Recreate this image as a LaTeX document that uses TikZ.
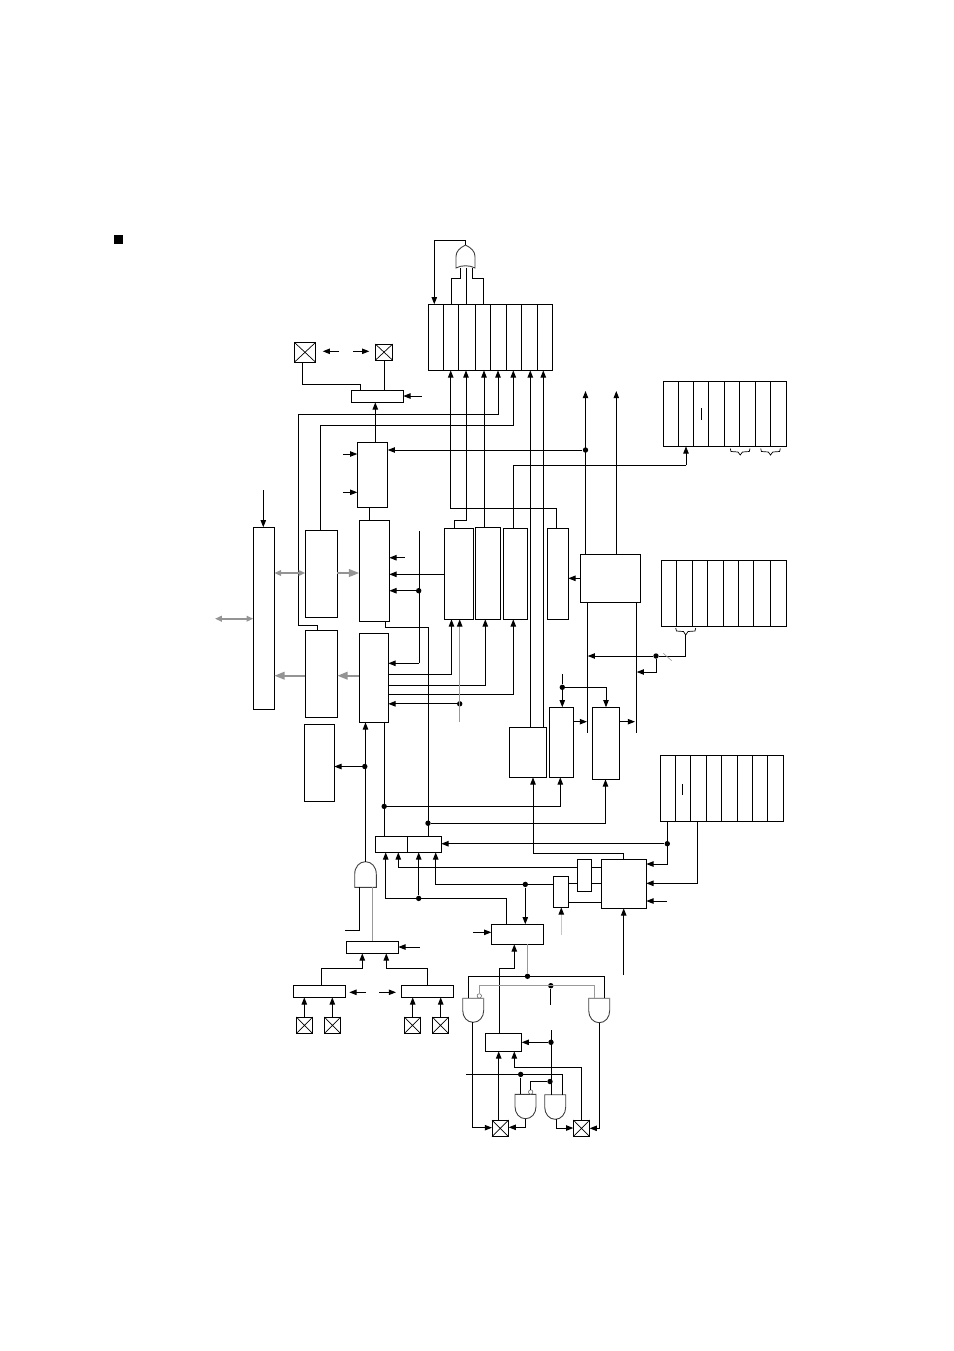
\documentclass[tikz,border=0pt]{standalone}
\usetikzlibrary{arrows.meta,calc}
\tikzset{
	blk/.style={draw, line width=0.5pt, inner sep=0, outer sep=0},
	gatebox/.style={inner sep=0, outer sep=0},
	wire/.style={draw, line width=0.5pt},
	arr/.style={wire, -{Triangle[length=3.6pt,width=2.7pt]}},
	graywire/.style={draw=black!40, line width=0.5pt},
	grayarr/.style={graywire, -{Triangle[length=3.6pt,width=2.7pt,color=black]}},
	busA/.style={draw=black!42, line width=1pt, {Triangle[length=3.4pt,width=2.8pt]}-{Triangle[length=3.4pt,width=2.8pt]}},
	busB/.style={draw=black!42, line width=1pt, -{Triangle[length=5.2pt,width=3.8pt]}},
	dot/.style={circle, fill=black, inner sep=0, minimum size=2.7pt},
	bub/.style={circle, draw=black!60, fill=white, line width=0.3pt, inner sep=0, minimum size=2.2pt},
	gatel/.style={draw=black!75, line width=0.45pt},
	gategray/.style={draw=black!45, line width=0.7pt}
}
\newcommand{\blk}[5]{\node[blk, minimum width={(#4-#2)*0.5pt}, minimum height={(#5-#3)*0.5pt}] (#1) at ({(#2+#4)/2},{(#3+#5)/2}) {};}
\newcommand{\gbx}[5]{\node[gatebox, minimum width={(#4-#2)*0.5pt}, minimum height={(#5-#3)*0.5pt}] (#1) at ({(#2+#4)/2},{(#3+#5)/2}) {};}
\newcommand{\xbx}[5]{\blk{#1}{#2}{#3}{#4}{#5}\draw[wire, line width=0.35pt] (#1.north west) -- (#1.south east) (#1.north east) -- (#1.south west);}
\newcommand{\regbx}[6]{\blk{#1}{#2}{#3}{#4}{#5}\foreach \xx in {#6} {\draw[wire] (\xx,0 |- #1.north) -- (\xx,0 |- #1.south);}}
\newcommand{\anddown}[5]{\gbx{#1}{#2}{#3}{#4}{#5}\draw[gatel] (#1.north west) -- (#1.west) .. controls +(0,7) and +(-6,0) .. (#1.south) .. controls +(6,0) and +(0,7) .. (#1.east) -- (#1.north east) -- cycle;}
\newcommand{\andup}[5]{\gbx{#1}{#2}{#3}{#4}{#5}\draw[gatel] (#1.south west) -- (#1.west) .. controls +(0,-8) and +(-6,0) .. (#1.north) .. controls +(6,0) and +(0,-8) .. (#1.east) -- (#1.south east) -- cycle;}
\newcommand{\orup}[5]{\gbx{#1}{#2}{#3}{#4}{#5}\draw[gatel] (#1.south west) -- (#1.west) .. controls +(0,-5) and +(-6,3) .. (#1.north) .. controls +(6,3) and +(0,-5) .. (#1.east) -- (#1.south east) .. controls +(-5,-3) and +(5,-3) .. (#1.south west) -- cycle;}

\begin{document}
\begin{tikzpicture}[x=0.5pt, y=-0.5pt]
	\useasboundingbox (0,0) rectangle (954,1351);
	
	\node[fill=black, inner sep=0, minimum size=4.5pt] (bullet) at (118.7,239.3) {};
	
	%%%%% registers %%%%%
	\regbx{regPin}{428.3}{304.3}{552.7}{370.3}{443.3,458.7,475.3,490.7,506.7,521.3,537.3}
	\regbx{regTop}{663.3}{381.3}{786.3}{446.3}{678.3,693.3,708.3,724.3,739.3,755.3,770.3}
	\regbx{regMid}{661.3}{560.3}{786.3}{626.3}{676.3,692.3,707.3,723.3,738.3,753.3,770.3}
	\regbx{regLow}{660.3}{755.7}{783.3}{821.3}{675.3,690.3,706.3,721.3,737.3,752.7,767.3}
	\draw[wire] (701.3,408.3) -- (701.3,420);
	\draw[wire] (682.3,784) -- (682.3,795.3);
	
	%%%%% blocks %%%%%
	\blk{muxOut}{351.3}{390.3}{403.3}{402.3}
	\blk{sel}{357.3}{442.3}{387.7}{507.3}
	\blk{busIf}{253.3}{527.3}{274.3}{709.3}
	\blk{wrBuf}{305.3}{530.3}{337.3}{617.3}
	\blk{rdBuf}{305.3}{630.3}{337.3}{717.3}
	\blk{ctrl}{304.3}{724.3}{334.3}{801.3}
	\blk{shiftW}{359.3}{520.3}{389.3}{621.3}
	\blk{shiftR}{359.3}{633.3}{388.3}{722.3}
	\blk{boxG}{444.3}{528.3}{473.3}{619.3}
	\blk{boxH}{475.3}{527.3}{500.7}{619.3}
	\blk{boxI}{503.3}{528.3}{527.7}{619.3}
	\blk{boxJ}{547.3}{528.3}{568.3}{619.3}
	\blk{timer}{580.3}{554.3}{640.3}{602.3}
	\blk{boxN}{509.3}{727.3}{546.7}{777.3}
	\blk{boxM}{549.3}{707.3}{573.7}{777.3}
	\blk{boxK}{592.3}{707.3}{619.3}{779.3}
	\blk{muxL}{375.3}{836.3}{407.3}{852.3}
	\blk{muxR}{407.3}{836.3}{441.3}{852.3}
	\blk{boxP}{601.3}{859.3}{646.3}{908.3}
	\blk{boxQ}{577.3}{859.3}{591.7}{891.3}
	\blk{boxR}{553.3}{876.3}{568.7}{907.3}
	\blk{boxS}{491.3}{924.3}{543.7}{944.3}
	\blk{muxT}{346.3}{941.3}{398.3}{953.3}
	\blk{muxU}{293.3}{985.3}{345.3}{997.3}
	\blk{muxV}{401.3}{985.3}{453.3}{997.3}
	\blk{boxW}{485.3}{1033.3}{521.7}{1051.3}
	
	%%%%% pads %%%%%
	\xbx{padA}{294.3}{342.3}{315.7}{362.3}
	\xbx{padB}{375.3}{344}{392.7}{360.3}
	\xbx{padC}{296.3}{1017}{312.7}{1033.7}
	\xbx{padD}{324.3}{1017}{340.7}{1033.7}
	\xbx{padE}{404.3}{1017}{420.7}{1033.7}
	\xbx{padF}{432.3}{1017}{448.7}{1033.7}
	\xbx{padG}{492}{1120}{508.7}{1136.7}
	\xbx{padH}{573.3}{1120}{589.7}{1136.7}
	
	%%%%% gates %%%%%
	\orup{orGate}{456}{245}{475}{268}
	\andup{andT}{354.7}{861.7}{376.3}{887.3}
	\anddown{andA}{462.7}{998.3}{483.7}{1022.3}
	\anddown{andB}{588.7}{998.3}{609.7}{1022.7}
	\anddown{andC}{515}{1094.3}{536}{1118.7}
	\anddown{andD}{544.7}{1094.7}{565.7}{1119.3}
	\draw[gategray] (andA.west) -- (andA.north west) -- (andA.north east);
	\draw[gategray] (andB.north west) -- (andB.north east);
	\node[bub] (bubA) at (479.3,995.9) {};
	\node[bub] (bubB) at (530.7,1092) {};
	
	%%%%% dots %%%%%
	\node[dot] (dotTimer) at (585.5,450) {};
	\node[dot] (dotVert) at (418.7,590.7) {};
	\node[dot] (dotGray) at (459.7,703.8) {};
	\node[dot] (dotCtrl) at (364.8,766.5) {};
	\node[dot] (dotLeft) at (384.2,806.4) {};
	\node[dot] (dotRight) at (428,823.2) {};
	\node[dot] (dotBrace) at (656,656) {};
	\node[dot] (dotKM) at (562.3,687.3) {};
	\node[dot] (dotReg) at (667.3,843.7) {};
	\node[dot] (dotR) at (525.3,884.4) {};
	\node[dot] (dotS) at (418.7,898.4) {};
	\node[dot] (dotGnd) at (527.5,976.3) {};
	\node[dot] (dotEn) at (550.8,985.7) {};
	\node[dot] (dotW) at (551,1042.3) {};
	\node[dot] (dotC) at (550,1081.5) {};
	\node[dot] (dotBot) at (520.7,1074.4) {};
	
	%%%%% top %%%%%
	\draw[arr] (orGate.north) -- ++(0,-4.7) -| (434.3,0 |- regPin.north);
	\draw[wire] (451.7,0 |- regPin.north) |- (460,278) -- (460,0 |- orGate.south);
	\draw[wire] (466,0 |- regPin.north) -- (466,0 |- orGate.south);
	\draw[wire] (483.3,0 |- regPin.north) |- (472,278) -- (472,0 |- orGate.south);
	
	\draw[arr] (556.3,0 |- boxJ.north) |- (450.7,508.3) -- (450.7,0 |- regPin.south);
	\draw[arr] (454.3,0 |- boxG.north) |- (466,520) -- (466,0 |- regPin.south);
	\draw[arr] (484,0 |- boxH.north) -- (484,0 |- regPin.south);
	\draw[arr] (rdBuf.north -| 317.3,0) |- (298.3,625.3) |- (498,414.3) -- (498,0 |- regPin.south);
	\draw[arr] (320.3,0 |- wrBuf.north) |- (513.3,425.7) -- (513.3,0 |- regPin.south);
	\draw[arr] (530.3,0 |- boxN.north) -- (530.3,0 |- regPin.south);
	\draw[arr] (543.3,0 |- boxN.north) -- (543.3,0 |- regPin.south);
	\draw[wire] (513.3,0 |- boxI.north) |- (686,465.3);
	\draw[arr] (686,465.3) -- (686,0 |- regTop.south);
	
	\draw[arr] (375.3,0 |- sel.north) -- (375.3,0 |- muxOut.south);
	\draw[wire] (360.3,0 |- muxOut.north) |- (302.3,384.3) -- (302.3,0 |- padA.south);
	\draw[wire] (384.3,0 |- muxOut.north) -- (384.3,0 |- padB.south);
	\draw[arr] (421.7,396) -- (muxOut.east |- 0,396);
	\coordinate (padAr) at (339,351.3);
	\coordinate (padBl) at (353.3,351.3);
	\draw[arr] (padAr) -- ++(-16.3,0);
	\draw[arr] (padBl) -- ++(16,0);
	
	\draw[arr] (dotTimer) -- (sel.east |- dotTimer);
	\draw[arr] (343,454) -- (sel.west |- 0,454);
	\draw[arr] (343,492.3) -- (sel.west |- 0,492.3);
	\draw[wire] (369.3,0 |- sel.south) -- (369.3,0 |- shiftW.north);
	
	\draw[arr] (585.5,0 |- timer.north) -- (585.5,391);
	\draw[arr] (616.3,0 |- timer.north) -- (616.3,391);
	
	%%%%% middle %%%%%
	\draw[arr] (263.3,490) -- (263.3,0 |- busIf.north);
	\draw[busA] (215,618.7) -- (busIf.west |- 0,618.7);
	\draw[busA] (busIf.east |- 0,573) -- (wrBuf.west |- 0,573);
	\draw[busB] (wrBuf.east |- 0,573) -- (shiftW.west |- 0,573);
	\draw[busB] (shiftR.west |- 0,675.7) -- (rdBuf.east |- 0,675.7);
	\draw[busB] (rdBuf.west |- 0,675.7) -- (busIf.east |- 0,675.7);
	
	\draw[arr] (404.7,557.7) -- (shiftW.east |- 0,557.7);
	\draw[arr] (boxG.west |- 0,574.3) -- (shiftW.east |- 0,574.3);
	\draw[arr] (dotVert) -- (shiftW.east |- dotVert);
	\draw[wire] (419,531) -- (419,663.3);
	\draw[arr] (419,663.3) -- (shiftR.east |- 0,663.3);
	\draw[wire] (385.3,0 |- shiftW.south) |- (428.3,627.3) -- (428.3,0 |- muxR.north);
	
	\draw[arr] (shiftR.east |- 0,674.3) -| (451.5,0 |- boxG.south);
	\draw[arr] (shiftR.east |- 0,685.3) -| (485.3,0 |- boxH.south);
	\draw[arr] (shiftR.east |- 0,694.3) -| (513.3,0 |- boxI.south);
	\draw[arr] (dotGray) -- (shiftR.east |- dotGray);
	\draw[grayarr] (459.7,722.3) -- (459.7,0 |- boxG.south);
	
	\draw[arr] (andT.north) -- (andT.north |- shiftR.south);
	\draw[arr] (dotCtrl) -- (ctrl.east |- dotCtrl);
	\draw[wire] (384.3,0 |- shiftR.south) -- (384.3,0 |- muxL.north);
	\draw[arr] (dotLeft) -| (560.3,0 |- boxM.south);
	\draw[arr] (dotRight) -| (605.5,0 |- boxK.south);
	
	\draw[arr] (timer.west |- 0,578.3) -- (boxJ.east |- 0,578.3);
	\draw[wire] (587.3,0 |- timer.south) -- (587.3,732.7);
	\draw[wire] (636.3,0 |- timer.south) -- (636.3,732.7);
	
	%%%%% braces %%%%%
	\draw[wire, line width=0.35pt] (675.7,628) -- (676.5,631) -- (683.5,631.5) -- (685.7,635) -- (688,631.5) -- (695,631) -- (695.7,628);
	\draw[wire, line width=0.35pt] (730.3,448.5) -- (731,451.5) -- (738,452) -- (740.2,455) -- (742.5,452) -- (749.3,451.5) -- (750,448.5);
	\draw[wire, line width=0.35pt] (760.7,448.5) -- (761.4,451.5) -- (768.3,452) -- (770.5,455) -- (772.8,452) -- (779.6,451.5) -- (780.3,448.5);
	
	\draw[arr] (685.7,635) |- (dotBrace) -- (587.7,0 |- dotBrace);
	\draw[arr] (dotBrace) |- (636.7,672);
	\draw[graywire, line width=0.3pt] (663.3,653.3) -- (671.7,660.7);
	
	\draw[wire] (562.3,674) -- (dotKM);
	\draw[arr] (dotKM) -- (562.3,0 |- boxM.north);
	\draw[arr] (dotKM) -| (606,0 |- boxK.north);
	\draw[arr] (boxM.east |- 0,721.7) -- (587,721.7);
	\draw[arr] (boxK.east |- 0,721.7) -- (635,721.7);
	
	%%%%% lower %%%%%
	\draw[arr] (623.7,0 |- boxP.north) |- (533,853.3) -- (533,0 |- boxN.south);
	\draw[arr] (dotReg) -- (muxR.east |- dotReg);
	\draw[arr] (667.3,0 |- regLow.south) |- (boxP.east |- 0,864);
	\draw[arr] (697.7,0 |- regLow.south) |- (boxP.east |- 0,883.3);
	\draw[arr] (667,901) -- (boxP.east |- 0,901);
	\draw[arr] (623.7,975) -- (623.7,0 |- boxP.south);
	
	\draw[wire] (boxQ.east |- 0,867.3) -- (boxP.west |- 0,867.3);
	\draw[wire] (boxQ.east |- 0,883.3) -- (boxP.west |- 0,883.3);
	\draw[wire] (boxR.east |- 0,883.3) -- (boxQ.west |- 0,883.3);
	\draw[wire] (boxR.east |- 0,902.3) -- (boxP.west |- 0,902.3);
	\draw[arr] (boxQ.west |- 0,867.3) -| (398.3,0 |- muxL.south);
	\draw[arr] (boxR.west |- 0,884.4) -| (435.7,0 |- muxR.south);
	\draw[arr] (dotR) -- (dotR |- boxS.north);
	\draw[grayarr, draw=black!22] (561.3,935) -- (561.3,0 |- boxR.south);
	\draw[arr] (473.3,932.3) -- (boxS.west |- 0,932.3);
	\draw[arr] (506.7,0 |- boxS.north) |- (385.7,898.4) -- (385.7,0 |- muxL.south);
	\draw[arr] (dotS) -- (dotS |- muxL.south);
	
	\draw[wire] (359.7,0 |- andT.south) |- (345,930.7);
	\draw[graywire] (372.3,0 |- andT.south) -- (372.3,0 |- muxT.north);
	\draw[arr] (420,947) -- (muxT.east |- 0,947);
	\draw[arr] (321.3,0 |- muxU.north) |- (362.3,968.3) -- (362.3,0 |- muxT.south);
	\draw[arr] (427.3,0 |- muxV.north) |- (386.3,968.3) -- (386.3,0 |- muxT.south);
	\draw[arr] (366,992.3) -- (349.3,992.3);
	\draw[arr] (379,992.3) -- (396,992.3);
	\draw[arr] (304.3,0 |- padC.north) -- (304.3,0 |- muxU.south);
	\draw[arr] (332.3,0 |- padD.north) -- (332.3,0 |- muxU.south);
	\draw[arr] (412.7,0 |- padE.north) -- (412.7,0 |- muxV.south);
	\draw[arr] (440.7,0 |- padF.north) -- (440.7,0 |- muxV.south);
	
	%%%%% bottom %%%%%
	\draw[arr] (499.3,0 |- boxW.north) |- (514.3,968.3) -- (514.3,0 |- boxS.south);
	\draw[graywire] (527.5,0 |- boxS.south) -- (dotGnd);
	\draw[wire] (468.3,0 |- andA.north) |- (604.3,976.3) -- (604.3,0 |- andB.north);
	\draw[graywire] (bubA) |- (594,985.7) -- (594,0 |- andB.north);
	\draw[wire] (dotEn) -- (550.8,1004.7);
	\draw[wire] (551,1030) -- (551,0 |- andD.north);
	\draw[arr] (dotW) -- (boxW.east |- dotW);
	\draw[wire] (dotC) -| (bubB);
	\draw[wire] (466,1074.4) -| (562.7,0 |- andD.north);
	\draw[wire] (dotBot) -- (dotBot |- andC.north);
	
	\draw[arr] (472.7,0 |- andA.south) |- (padG.west |- 0,1127.7);
	\draw[arr] (599.3,0 |- andB.south) |- (padH.east |- 0,1128.3);
	\draw[arr] (525,0 |- andC.south) |- (padG.east |- 0,1127.3);
	\draw[arr] (556.3,0 |- andD.south) |- (padH.west |- 0,1128);
	\draw[arr] (498.7,0 |- padG.north) -- (498.7,0 |- boxW.south);
	\draw[arr] (581.7,0 |- padH.north) |- (514.3,1067.3) -- (514.3,0 |- boxW.south);
	
\end{tikzpicture}
\end{document}
